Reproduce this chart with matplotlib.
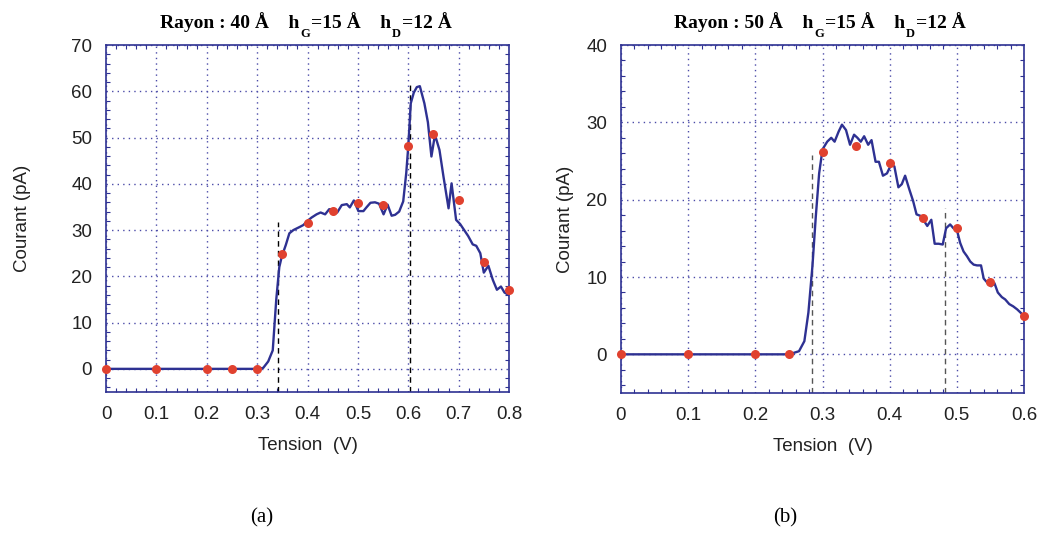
import numpy as np
import matplotlib.pyplot as plt
from matplotlib.ticker import MultipleLocator

plt.rcParams['font.family'] = ['Liberation Sans', 'DejaVu Sans']

# ---- panel (a) : Rayon 40 A ----
va_line = [0, 0.1, 0.2, 0.3, 0.312, 0.322, 0.331, 0.338, 0.344, 0.349, 0.357, 0.364,
           0.372, 0.385, 0.392, 0.398, 0.408, 0.418, 0.426, 0.435, 0.443, 0.451,
           0.459, 0.468, 0.478, 0.484, 0.492, 0.501, 0.511, 0.517, 0.525, 0.534,
           0.542, 0.551, 0.559, 0.567, 0.574, 0.582, 0.590, 0.596, 0.600, 0.605,
           0.611, 0.617, 0.623, 0.632, 0.639, 0.646, 0.653, 0.662, 0.670, 0.680,
           0.686, 0.695, 0.703, 0.711, 0.719, 0.728, 0.735, 0.743, 0.750, 0.759,
           0.768, 0.776, 0.784, 0.791, 0.799]
ia_line = [0, 0, 0, 0, 0.2, 1.6, 4.0, 15.0, 22.0, 24.3, 26.8, 29.3,
           30.0, 30.7, 31.1, 31.8, 32.7, 33.4, 33.8, 33.4, 34.5, 34.5,
           33.8, 35.4, 35.6, 34.9, 36.4, 34.1, 34.1, 34.9, 35.9, 36.0,
           35.7, 33.4, 35.5, 33.1, 33.3, 34.0, 36.2, 42.3, 48.0, 57.4,
           59.7, 60.9, 61.1, 57.4, 53.3, 45.9, 50.6, 47.3, 41.5, 34.7,
           40.1, 32.2, 31.3, 30.0, 28.7, 26.9, 26.6, 25.0, 20.8, 22.3,
           19.2, 17.1, 17.8, 16.5, 16.0]
va_pts = [0, 0.1, 0.2, 0.25, 0.3, 0.35, 0.4, 0.45, 0.5, 0.55, 0.6, 0.65, 0.7, 0.75, 0.8]
ia_pts = [0, 0, 0, 0, 0, 24.8, 31.5, 34.1, 35.9, 35.5, 48.2, 50.8, 36.4, 23.1, 17.1]
va_dash = [0.341, 0.603]
ia_dash = [31.8, 62.2]

# ---- panel (b) : Rayon 50 A ----
vb_line = [0, 0.1, 0.2, 0.25, 0.265, 0.273, 0.279, 0.285, 0.290, 0.295, 0.300,
           0.307, 0.313, 0.318, 0.324, 0.329, 0.335, 0.341, 0.347, 0.352, 0.357,
           0.362, 0.368, 0.373, 0.379, 0.384, 0.390, 0.396, 0.402, 0.407, 0.413,
           0.418, 0.423, 0.429, 0.435, 0.440, 0.446, 0.450, 0.456, 0.462, 0.467,
           0.473, 0.479, 0.484, 0.490, 0.495, 0.500, 0.505, 0.510, 0.515, 0.520,
           0.525, 0.530, 0.536, 0.540, 0.546, 0.551, 0.556, 0.561, 0.567, 0.572,
           0.578, 0.584, 0.590, 0.596, 0.600]
ib_line = [0, 0, 0, 0, 0.4, 1.7, 5.4, 11.4, 17.8, 23.4, 26.5,
           27.5, 28.0, 27.5, 28.8, 29.7, 29.0, 27.1, 28.4, 28.0, 27.5,
           28.2, 27.1, 27.7, 24.9, 24.9, 23.1, 23.4, 24.5, 24.3, 21.6,
           22.0, 23.1, 21.4, 19.8, 18.1, 17.9, 17.4, 16.6, 17.4, 14.3,
           14.3, 14.2, 16.3, 16.8, 16.3, 16.1, 14.4, 13.3, 12.7, 12.0,
           11.6, 11.5, 11.5, 9.8, 9.2, 8.8, 9.2, 8.0, 7.4, 7.1,
           6.5, 6.2, 5.8, 5.3, 4.9]
vb_pts = [0, 0.1, 0.2, 0.25, 0.3, 0.35, 0.4, 0.45, 0.5, 0.55, 0.6]
ib_pts = [0, 0, 0, 0, 26.2, 27.0, 24.8, 17.6, 16.4, 9.4, 5.0]
vb_dash = [0.285, 0.483]
ib_dash = [25.8, 18.9]

navy = '#2e3192'
red = '#e0412f'
W, H = 1041, 535

fig = plt.figure(figsize=(W / 100, H / 100), dpi=100)
ax1 = fig.add_axes([106 / W, 1 - 392 / H, 403 / W, 347 / H])
ax2 = fig.add_axes([621 / W, 1 - 393 / H, 403 / W, 348 / H])

panels = [
    (ax1, va_line, ia_line, va_pts, ia_pts, va_dash, ia_dash, 40, 0.8, 70, 'k', 29, 160),
    (ax2, vb_line, ib_line, vb_pts, ib_pts, vb_dash, ib_dash, 50, 0.6, 40, '#555555', 9, 674),
]


def title_row(ax, x0, r):
    # title written piece by piece so the subscripts sit low like the original
    base = 1 - 28 / H
    sub = 1 - 37 / H
    serif = dict(family='Liberation Serif', fontweight='bold', color='k')
    pieces = [(f'Rayon : {r} Å    h', 14, base), ('G', 9, sub),
              ('=15 Å    h', 14, base), ('D', 9, sub), ('=12 Å', 14, base)]
    prev = None
    for txt, fs, y in pieces:
        if prev is None:
            prev = fig.text(x0 / W, y, txt, fontsize=fs, va='baseline', ha='left', **serif)
        else:
            prev = ax.annotate(txt, xy=(1, y), xycoords=(prev, 'figure fraction'),
                               xytext=(0.6, 0), textcoords='offset points',
                               fontsize=fs, va='baseline', ha='left',
                               annotation_clip=False, **serif)


for ax, vl, il, vp, ip, vd, idd, r, xmax, ymax, dcol, ypad, tx in panels:
    for x, top in zip(vd, idd):
        ax.plot([x, x], [-5, top], color=dcol, lw=1.0, ls=(0, (4, 3)), zorder=2)
    ax.plot(vl, il, color=navy, lw=1.7, zorder=3)
    ax.plot(vp, ip, 'o', color=red, ms=6.5, mec='none', zorder=4, clip_on=False)
    ax.set_xlim(0, xmax)
    ax.set_ylim(-5, ymax)
    ax.xaxis.set_major_locator(MultipleLocator(0.1))
    ax.xaxis.set_minor_locator(MultipleLocator(0.02))
    ax.yaxis.set_major_locator(MultipleLocator(10))
    ax.yaxis.set_minor_locator(MultipleLocator(2))
    ax.xaxis.set_major_formatter(plt.FuncFormatter(lambda v, p: '0' if abs(v) < 1e-9 else f'{v:.1f}'))
    ax.grid(True, which='major', color='#4b4ba8', ls=(0, (1, 3)), lw=1.0)
    ax.tick_params(which='both', direction='in', top=True, right=True, color=navy,
                   labelsize=13.5, labelcolor='#222222')
    ax.tick_params(which='major', length=0, pad=10)
    ax.tick_params(which='minor', length=3, width=0.8)
    for s in ax.spines.values():
        s.set_color(navy)
        s.set_linewidth(1.2)
    ax.set_xlabel('Tension  (V)', fontsize=13.5, color='#222222', labelpad=10)
    ax.set_ylabel('Courant (pA)', fontsize=13.5, color='#222222', labelpad=ypad)
    title_row(ax, tx, r)

fig.text(262 / W, 1 - 518 / H, '(a)', family='Liberation Serif', fontsize=15,
         ha='center', va='center')
fig.text(785 / W, 1 - 518 / H, '(b)', family='Liberation Serif', fontsize=15,
         ha='center', va='center')

fig.savefig('out.png', dpi=100)
